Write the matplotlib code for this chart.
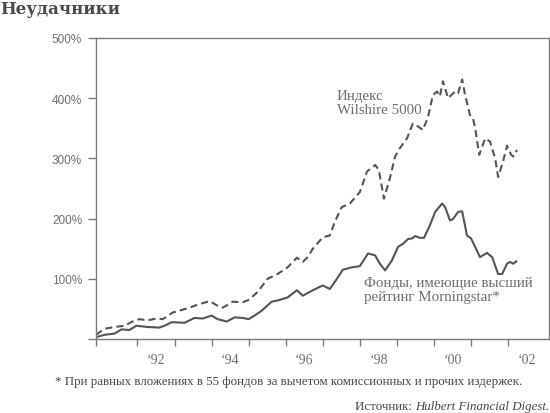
import matplotlib
matplotlib.use('Agg')
import matplotlib.pyplot as plt

# Wilshire 5000 index (dashed)
wil_years = [1990.88, 1991.11, 1991.38, 1991.65, 1991.83, 1992.05, 1992.27, 1992.51, 1992.68, 1992.95,
             1993.35, 1993.62, 1993.95, 1994.14, 1994.30, 1994.57, 1994.84, 1995.00, 1995.24, 1995.51,
             1995.78, 1996.05, 1996.30, 1996.46, 1996.59, 1996.73, 1997.00, 1997.19, 1997.32, 1997.51,
             1997.73, 1998.00, 1998.19, 1998.41, 1998.51, 1998.65, 1998.81, 1998.95, 1999.08, 1999.27,
             1999.43, 1999.57, 1999.70, 1999.84, 1999.97, 2000.08, 2000.16, 2000.24, 2000.38, 2000.57,
             2000.65, 2000.76, 2000.84, 2000.97, 2001.05, 2001.11, 2001.22, 2001.38, 2001.51, 2001.65,
             2001.73, 2001.86, 2001.97, 2002.08, 2002.14, 2002.24]
wil_values = [7, 17, 20, 22, 28, 33, 31, 34, 33, 44,
              51, 57, 63, 56, 52, 62, 61, 65, 78, 100,
              108, 119, 135, 128, 136, 150, 169, 172, 194, 219,
              225, 244, 278, 289, 281, 233, 267, 303, 317, 333,
              358, 353, 347, 369, 405, 411, 403, 428, 400, 411,
              408, 431, 405, 372, 367, 350, 306, 333, 328, 300,
              269, 294, 321, 306, 303, 314]

# top-rated Morningstar funds (solid)
fund_years = [1990.88, 1991.11, 1991.38, 1991.57, 1991.78, 1991.97, 1992.27, 1992.59, 1992.73, 1992.92,
              1993.27, 1993.54, 1993.76, 1994.00, 1994.16, 1994.41, 1994.62, 1994.84, 1995.00, 1995.16,
              1995.35, 1995.62, 1995.78, 1996.05, 1996.30, 1996.46, 1996.73, 1997.00, 1997.19, 1997.38,
              1997.54, 1997.78, 1998.00, 1998.22, 1998.41, 1998.54, 1998.68, 1998.86, 1999.03, 1999.16,
              1999.30, 1999.41, 1999.49, 1999.62, 1999.73, 1999.89, 2000.03, 2000.22, 2000.30, 2000.43,
              2000.51, 2000.65, 2000.76, 2000.89, 2001.00, 2001.11, 2001.24, 2001.43, 2001.57, 2001.73,
              2001.84, 2001.97, 2002.05, 2002.14, 2002.22]
fund_values = [3, 7, 9, 16, 15, 22, 20, 19, 22, 28,
               27, 35, 34, 39, 33, 29, 36, 35, 33, 39,
               47, 62, 64, 69, 81, 72, 81, 89, 83, 100,
               115, 119, 121, 142, 139, 125, 114, 130, 153, 158,
               166, 167, 171, 168, 168, 189, 211, 225, 219, 197,
               199, 211, 212, 172, 167, 153, 136, 143, 136, 108,
               108, 125, 128, 125, 129]

year_ticks = list(range(1992, 2003))
label_years = [1992, 1994, 1996, 1998, 2000, 2002]
label_text = ['‘92', '‘94', '‘96', '‘98', '‘00', '‘02']
y_ticks = [0, 100, 200, 300, 400, 500]
y_labels = ['', '100%', '200%', '300%', '400%', '500%']

line_col = '#555555'
axis_col = '#7a7a7a'
text_col = '#6e6e6e'
serif = 'Liberation Serif'

fig = plt.figure(figsize=(5.5, 4.14), dpi=100)
ax = fig.add_axes([0.1745, 0.1787, 0.8235, 0.7273])

ax.plot(wil_years, wil_values, color=line_col, lw=1.5, dashes=(3.4, 2.0))
ax.plot(fund_years, fund_values, color=line_col, lw=1.5)

ax.set_xlim(1990.88, 2003.1)
ax.set_ylim(0, 500)

for s in ax.spines.values():
    s.set_color(axis_col)
    s.set_linewidth(1.0)

ax.set_xticks([1990.88] + year_ticks)
ax.set_xticklabels([])
ax.set_xticks([y + 0.5 for y in label_years], minor=True)
ax.set_xticklabels(label_text, minor=True, fontfamily=serif, fontsize=10, color=text_col)
ax.tick_params(axis='x', which='major', direction='out', length=5, width=1, color=axis_col)
ax.tick_params(axis='x', which='minor', length=0, pad=10)

ax.set_yticks(y_ticks)
ax.set_yticklabels(y_labels, fontfamily='Liberation Sans', fontsize=8.5, color=text_col)
ax.tick_params(axis='y', direction='out', length=6, width=1, color=axis_col, pad=4)

ax.text(1997.37, 416, 'Индекс\nWilshire 5000', fontfamily=serif, fontsize=10.8,
        color=text_col, va='top', ha='left', linespacing=1.12)
ax.text(1998.1, 105, 'Фонды, имеющие высший\nрейтинг Morningstar*', fontfamily=serif, fontsize=10.8,
        color=text_col, va='top', ha='left', linespacing=1.12)

fig.text(0.0, 0.997, 'Неудачники', fontfamily='DejaVu Serif', fontweight='bold',
         fontsize=12, color='#4a4a4a', va='top', ha='left')
fig.text(0.1, 0.077, '* При равных вложениях в 55 фондов за вычетом комиссионных и прочих издержек.',
         fontfamily=serif, fontsize=9.3, color='#444444', va='center', ha='left')

src = fig.text(0.998, 0.017, 'Hulbert Financial Digest.', fontfamily=serif, fontstyle='italic',
               fontsize=9.3, color='#444444', va='center', ha='right')
fig.canvas.draw()
bb = src.get_window_extent().transformed(fig.transFigure.inverted())
fig.text(bb.x0, 0.017, 'Источник: ', fontfamily=serif, fontsize=9.3, color='#444444',
         va='center', ha='right')

fig.savefig('out.png', dpi=100)
